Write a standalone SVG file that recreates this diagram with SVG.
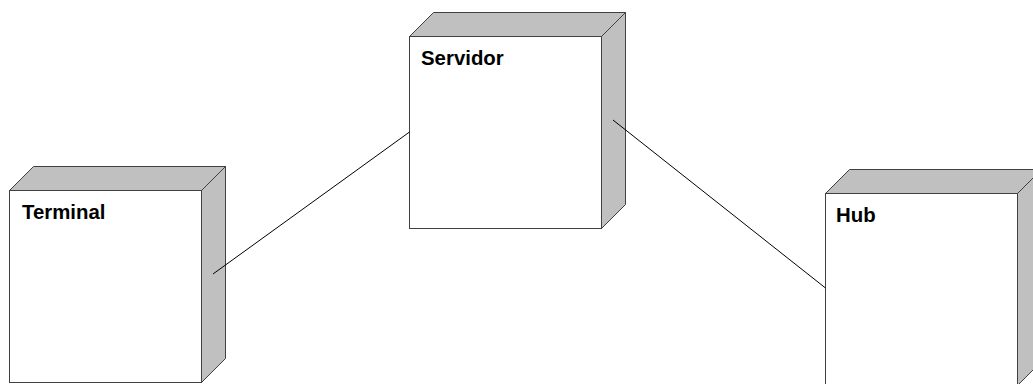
<svg xmlns="http://www.w3.org/2000/svg" width="1033" height="384" viewBox="0 0 1033 384">
<style>
.face{fill:#ffffff;stroke:#404040;stroke-width:1}
.side{fill:#c0c0c0;stroke:#404040;stroke-width:1}
.lbl{font-family:"Liberation Sans",Arial,sans-serif;font-weight:bold;font-size:20.4px;fill:#000}
.conn{stroke:#000;stroke-width:1;fill:none}
</style>
<rect width="1033" height="384" fill="#ffffff"/>
<g id="Terminal">
<polygon class="side" points="9.5,190.5 33.5,166.5 225.5,166.5 201.5,190.5"/>
<polygon class="side" points="201.5,190.5 225.5,166.5 225.5,358.5 201.5,382.5"/>
<rect class="face" x="9.5" y="190.5" width="192" height="192"/>
<text class="lbl" x="22" y="218.5">Terminal</text>
</g>
<g id="Servidor">
<polygon class="side" points="409.5,36.5 433.5,12.5 625.5,12.5 601.5,36.5"/>
<polygon class="side" points="601.5,36.5 625.5,12.5 625.5,204.5 601.5,228.5"/>
<rect class="face" x="409.5" y="36.5" width="192" height="192"/>
<text class="lbl" x="421" y="64.5">Servidor</text>
</g>
<g id="Hub">
<polygon class="side" points="825.5,193.5 849.5,169.5 1041.5,169.5 1017.5,193.5"/>
<polygon class="side" points="1017.5,193.5 1041.5,169.5 1041.5,361.5 1017.5,385.5"/>
<rect class="face" x="825.5" y="193.5" width="192" height="192"/>
<text class="lbl" x="836" y="221.5">Hub</text>
</g>
<g id="connectors">
<line class="conn" x1="213" y1="274" x2="409.5" y2="132"/>
<line class="conn" x1="613" y1="120" x2="825.5" y2="288"/>
</g>
</svg>
